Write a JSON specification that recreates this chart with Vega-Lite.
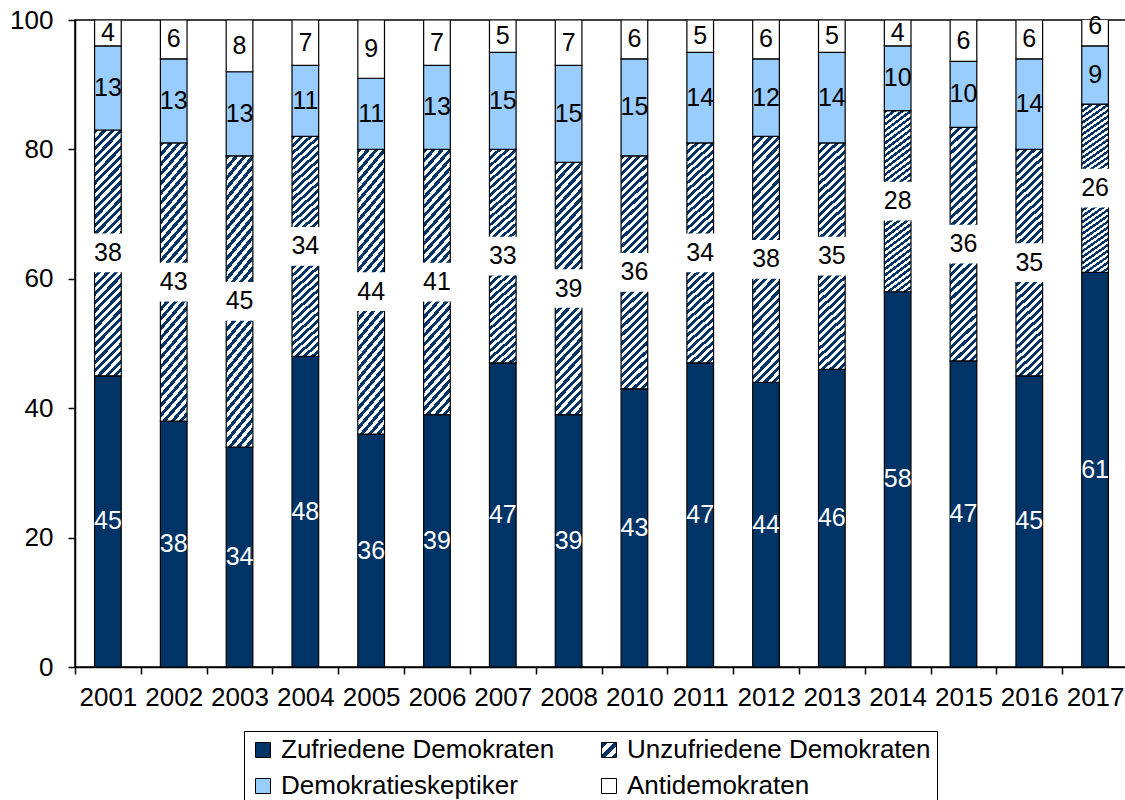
{
  "$schema": "https://vega.github.io/schema/vega-lite/v6.json",
  "width": 1053,
  "height": 647,
  "autosize": {"type": "none"},
  "padding": {"left": 75, "top": 20, "right": 0, "bottom": 133},
  "background": "white",
  "config": {
    "font": "Liberation Sans",
    "view": {"stroke": "black", "strokeWidth": 1.5},
    "axis": {"domainColor": "black", "domainWidth": 1.5, "tickColor": "black", "tickWidth": 1.5, "labelColor": "black", "labelFont": "Liberation Sans", "labelFontSize": 26, "grid": false, "title": null}
  },
  "data": {
    "values": [
      {"year": "2001", "Zufriedene Demokraten": 45, "Unzufriedene Demokraten": 38, "Demokratieskeptiker": 13, "Antidemokraten": 4},
      {"year": "2002", "Zufriedene Demokraten": 38, "Unzufriedene Demokraten": 43, "Demokratieskeptiker": 13, "Antidemokraten": 6},
      {"year": "2003", "Zufriedene Demokraten": 34, "Unzufriedene Demokraten": 45, "Demokratieskeptiker": 13, "Antidemokraten": 8},
      {"year": "2004", "Zufriedene Demokraten": 48, "Unzufriedene Demokraten": 34, "Demokratieskeptiker": 11, "Antidemokraten": 7},
      {"year": "2005", "Zufriedene Demokraten": 36, "Unzufriedene Demokraten": 44, "Demokratieskeptiker": 11, "Antidemokraten": 9},
      {"year": "2006", "Zufriedene Demokraten": 39, "Unzufriedene Demokraten": 41, "Demokratieskeptiker": 13, "Antidemokraten": 7},
      {"year": "2007", "Zufriedene Demokraten": 47, "Unzufriedene Demokraten": 33, "Demokratieskeptiker": 15, "Antidemokraten": 5},
      {"year": "2008", "Zufriedene Demokraten": 39, "Unzufriedene Demokraten": 39, "Demokratieskeptiker": 15, "Antidemokraten": 7},
      {"year": "2010", "Zufriedene Demokraten": 43, "Unzufriedene Demokraten": 36, "Demokratieskeptiker": 15, "Antidemokraten": 6},
      {"year": "2011", "Zufriedene Demokraten": 47, "Unzufriedene Demokraten": 34, "Demokratieskeptiker": 14, "Antidemokraten": 5},
      {"year": "2012", "Zufriedene Demokraten": 44, "Unzufriedene Demokraten": 38, "Demokratieskeptiker": 12, "Antidemokraten": 6},
      {"year": "2013", "Zufriedene Demokraten": 46, "Unzufriedene Demokraten": 35, "Demokratieskeptiker": 14, "Antidemokraten": 5},
      {"year": "2014", "Zufriedene Demokraten": 58, "Unzufriedene Demokraten": 28, "Demokratieskeptiker": 10, "Antidemokraten": 4},
      {"year": "2015", "Zufriedene Demokraten": 47.3, "Unzufriedene Demokraten": 36.1, "Demokratieskeptiker": 10.2, "Antidemokraten": 6.4},
      {"year": "2016", "Zufriedene Demokraten": 45, "Unzufriedene Demokraten": 35, "Demokratieskeptiker": 14, "Antidemokraten": 6},
      {"year": "2017", "Zufriedene Demokraten": 61, "Unzufriedene Demokraten": 26, "Demokratieskeptiker": 9, "Antidemokraten": 6}
    ]
  },
  "transform": [
    {"fold": ["Zufriedene Demokraten", "Unzufriedene Demokraten", "Demokratieskeptiker", "Antidemokraten"], "as": ["series", "value"]},
    {"stack": "value", "groupby": ["year"], "sort": [{"field": "series", "order": "descending"}], "as": ["y0", "y1"]},
    {"calculate": "(datum.y0 + datum.y1) / 2", "as": "ymid"}
  ],
  "encoding": {
    "x": {
      "field": "year",
      "type": "ordinal",
      "scale": {"paddingInner": 0, "paddingOuter": 0},
      "axis": {"labelAngle": 0, "tickBand": "extent", "tickSize": 7, "labelPadding": 10}
    }
  },
  "layer": [
    {
      "mark": {"type": "bar", "width": {"band": 0.405}, "stroke": "black", "strokeWidth": 1.2, "clip": true},
      "encoding": {
        "y": {
          "field": "y0",
          "type": "quantitative",
          "scale": {"domain": [0, 100], "nice": false},
          "axis": {"values": [0, 20, 40, 60, 80, 100], "tickSize": 7, "labelPadding": 15}
        },
        "y2": {"field": "y1"},
        "color": {
          "condition": {
            "test": "datum.series === 'Unzufriedene Demokraten'",
            "value": {
              "gradient": "linear", "x1": 0, "y1": 0, "x2": 0.1218, "y2": 1.0975,
              "stops": [
                {"offset": 0, "color": "#003366"},
                {"offset": 0.015625, "color": "#003366"}, {"offset": 0.015625, "color": "#ffffff"},
                {"offset": 0.03125, "color": "#ffffff"}, {"offset": 0.03125, "color": "#003366"},
                {"offset": 0.046875, "color": "#003366"}, {"offset": 0.046875, "color": "#ffffff"},
                {"offset": 0.0625, "color": "#ffffff"}, {"offset": 0.0625, "color": "#003366"},
                {"offset": 0.078125, "color": "#003366"}, {"offset": 0.078125, "color": "#ffffff"},
                {"offset": 0.09375, "color": "#ffffff"}, {"offset": 0.09375, "color": "#003366"},
                {"offset": 0.109375, "color": "#003366"}, {"offset": 0.109375, "color": "#ffffff"},
                {"offset": 0.125, "color": "#ffffff"}, {"offset": 0.125, "color": "#003366"},
                {"offset": 0.140625, "color": "#003366"}, {"offset": 0.140625, "color": "#ffffff"},
                {"offset": 0.15625, "color": "#ffffff"}, {"offset": 0.15625, "color": "#003366"},
                {"offset": 0.171875, "color": "#003366"}, {"offset": 0.171875, "color": "#ffffff"},
                {"offset": 0.1875, "color": "#ffffff"}, {"offset": 0.1875, "color": "#003366"},
                {"offset": 0.203125, "color": "#003366"}, {"offset": 0.203125, "color": "#ffffff"},
                {"offset": 0.21875, "color": "#ffffff"}, {"offset": 0.21875, "color": "#003366"},
                {"offset": 0.234375, "color": "#003366"}, {"offset": 0.234375, "color": "#ffffff"},
                {"offset": 0.25, "color": "#ffffff"}, {"offset": 0.25, "color": "#003366"},
                {"offset": 0.265625, "color": "#003366"}, {"offset": 0.265625, "color": "#ffffff"},
                {"offset": 0.28125, "color": "#ffffff"}, {"offset": 0.28125, "color": "#003366"},
                {"offset": 0.296875, "color": "#003366"}, {"offset": 0.296875, "color": "#ffffff"},
                {"offset": 0.3125, "color": "#ffffff"}, {"offset": 0.3125, "color": "#003366"},
                {"offset": 0.328125, "color": "#003366"}, {"offset": 0.328125, "color": "#ffffff"},
                {"offset": 0.34375, "color": "#ffffff"}, {"offset": 0.34375, "color": "#003366"},
                {"offset": 0.359375, "color": "#003366"}, {"offset": 0.359375, "color": "#ffffff"},
                {"offset": 0.375, "color": "#ffffff"}, {"offset": 0.375, "color": "#003366"},
                {"offset": 0.390625, "color": "#003366"}, {"offset": 0.390625, "color": "#ffffff"},
                {"offset": 0.40625, "color": "#ffffff"}, {"offset": 0.40625, "color": "#003366"},
                {"offset": 0.421875, "color": "#003366"}, {"offset": 0.421875, "color": "#ffffff"},
                {"offset": 0.4375, "color": "#ffffff"}, {"offset": 0.4375, "color": "#003366"},
                {"offset": 0.453125, "color": "#003366"}, {"offset": 0.453125, "color": "#ffffff"},
                {"offset": 0.46875, "color": "#ffffff"}, {"offset": 0.46875, "color": "#003366"},
                {"offset": 0.484375, "color": "#003366"}, {"offset": 0.484375, "color": "#ffffff"},
                {"offset": 0.5, "color": "#ffffff"}, {"offset": 0.5, "color": "#003366"},
                {"offset": 0.515625, "color": "#003366"}, {"offset": 0.515625, "color": "#ffffff"},
                {"offset": 0.53125, "color": "#ffffff"}, {"offset": 0.53125, "color": "#003366"},
                {"offset": 0.546875, "color": "#003366"}, {"offset": 0.546875, "color": "#ffffff"},
                {"offset": 0.5625, "color": "#ffffff"}, {"offset": 0.5625, "color": "#003366"},
                {"offset": 0.578125, "color": "#003366"}, {"offset": 0.578125, "color": "#ffffff"},
                {"offset": 0.59375, "color": "#ffffff"}, {"offset": 0.59375, "color": "#003366"},
                {"offset": 0.609375, "color": "#003366"}, {"offset": 0.609375, "color": "#ffffff"},
                {"offset": 0.625, "color": "#ffffff"}, {"offset": 0.625, "color": "#003366"},
                {"offset": 0.640625, "color": "#003366"}, {"offset": 0.640625, "color": "#ffffff"},
                {"offset": 0.65625, "color": "#ffffff"}, {"offset": 0.65625, "color": "#003366"},
                {"offset": 0.671875, "color": "#003366"}, {"offset": 0.671875, "color": "#ffffff"},
                {"offset": 0.6875, "color": "#ffffff"}, {"offset": 0.6875, "color": "#003366"},
                {"offset": 0.703125, "color": "#003366"}, {"offset": 0.703125, "color": "#ffffff"},
                {"offset": 0.71875, "color": "#ffffff"}, {"offset": 0.71875, "color": "#003366"},
                {"offset": 0.734375, "color": "#003366"}, {"offset": 0.734375, "color": "#ffffff"},
                {"offset": 0.75, "color": "#ffffff"}, {"offset": 0.75, "color": "#003366"},
                {"offset": 0.765625, "color": "#003366"}, {"offset": 0.765625, "color": "#ffffff"},
                {"offset": 0.78125, "color": "#ffffff"}, {"offset": 0.78125, "color": "#003366"},
                {"offset": 0.796875, "color": "#003366"}, {"offset": 0.796875, "color": "#ffffff"},
                {"offset": 0.8125, "color": "#ffffff"}, {"offset": 0.8125, "color": "#003366"},
                {"offset": 0.828125, "color": "#003366"}, {"offset": 0.828125, "color": "#ffffff"},
                {"offset": 0.84375, "color": "#ffffff"}, {"offset": 0.84375, "color": "#003366"},
                {"offset": 0.859375, "color": "#003366"}, {"offset": 0.859375, "color": "#ffffff"},
                {"offset": 0.875, "color": "#ffffff"}, {"offset": 0.875, "color": "#003366"},
                {"offset": 0.890625, "color": "#003366"}, {"offset": 0.890625, "color": "#ffffff"},
                {"offset": 0.90625, "color": "#ffffff"}, {"offset": 0.90625, "color": "#003366"},
                {"offset": 0.921875, "color": "#003366"}, {"offset": 0.921875, "color": "#ffffff"},
                {"offset": 0.9375, "color": "#ffffff"}, {"offset": 0.9375, "color": "#003366"},
                {"offset": 0.953125, "color": "#003366"}, {"offset": 0.953125, "color": "#ffffff"},
                {"offset": 0.96875, "color": "#ffffff"}, {"offset": 0.96875, "color": "#003366"},
                {"offset": 0.984375, "color": "#003366"}, {"offset": 0.984375, "color": "#ffffff"},
                {"offset": 1, "color": "#ffffff"}
              ]
            }
          },
          "field": "series",
          "type": "nominal",
          "scale": {
            "domain": ["Zufriedene Demokraten", "Unzufriedene Demokraten", "Demokratieskeptiker", "Antidemokraten"],
            "range": [
              "#003366",
              {"expr": "{gradient: 'linear', x1: 0, y1: 0, x2: 1, y2: 1, stops: [{offset: 0, color: '#003366'}, {offset: 0.2, color: '#003366'}, {offset: 0.2, color: '#ffffff'}, {offset: 0.4, color: '#ffffff'}, {offset: 0.4, color: '#003366'}, {offset: 0.6, color: '#003366'}, {offset: 0.6, color: '#ffffff'}, {offset: 0.8, color: '#ffffff'}, {offset: 0.8, color: '#003366'}, {offset: 1, color: '#003366'}]}"},
              "#99CCFF",
              "#FFFFFF"
            ]
          },
          "legend": {
            "orient": "none",
            "direction": "horizontal",
            "legendX": 169,
            "legendY": 711,
            "columns": 2,
            "title": null,
            "symbolType": "square",
            "symbolSize": 225,
            "symbolStrokeColor": "black",
            "symbolStrokeWidth": 1,
            "symbolOffset": 0,
            "labelFont": "Liberation Sans",
            "labelFontSize": 26,
            "labelColor": "black",
            "labelLimit": 500,
            "labelOffset": 5,
            "columnPadding": 41,
            "rowPadding": 10,
            "padding": 6,
            "strokeColor": "black",
            "fillColor": "white"
          }
        }
      }
    },
    {
      "transform": [{"filter": "datum.series === 'Unzufriedene Demokraten'"}],
      "mark": {"type": "square", "size": 1500, "color": "white", "opacity": 1, "filled": true},
      "encoding": {
        "y": {"field": "ymid", "type": "quantitative"}
      }
    },
    {
      "mark": {"type": "text", "font": "Liberation Sans", "fontSize": 25, "baseline": "middle"},
      "encoding": {
        "y": {"field": "ymid", "type": "quantitative"},
        "text": {"field": "value", "type": "quantitative", "format": ".0f"},
        "color": {
          "condition": {"test": "datum.series === 'Zufriedene Demokraten'", "value": "white"},
          "value": "black"
        }
      }
    }
  ]
}
